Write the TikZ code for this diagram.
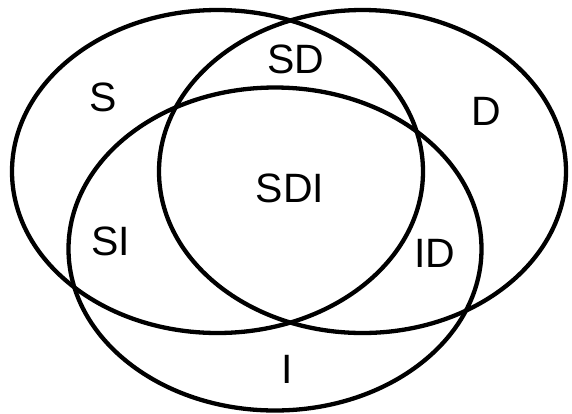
\documentclass[tikz,border=0pt]{standalone}
\usepackage{fontspec}
\setmainfont{Liberation Sans}
\begin{document}
\begin{tikzpicture}[x=1pt,y=-1pt,
  setline/.style={line width=4.3pt, draw=black},
  region/.style={font=\fontsize{41}{41}\selectfont, inner sep=0pt, anchor=center, text=black}]
  \useasboundingbox[fill=white] (0,0) rectangle (572,413);
  % the three sets
  \draw[setline] (217.5,171.5) ellipse [x radius=205.5, y radius=161.5];
  \draw[setline] (362.5,171.5) ellipse [x radius=203.5, y radius=161.5];
  \draw[setline] (275,249) ellipse [x radius=206.5, y radius=161.5];
  % region labels
  \node[region] (s)   at (103,97)  {S};
  \node[region] (sd)  at (296,59)  {SD};
  \node[region] (d)   at (486,111) {D};
  \node[region] (sdi) at (290,188) {SDI};
  \node[region] (si)  at (111,241) {SI};
  \node[region] (id)  at (435,253) {ID};
  \node[region] (i)   at (287,369) {I};
\end{tikzpicture}
\end{document}
